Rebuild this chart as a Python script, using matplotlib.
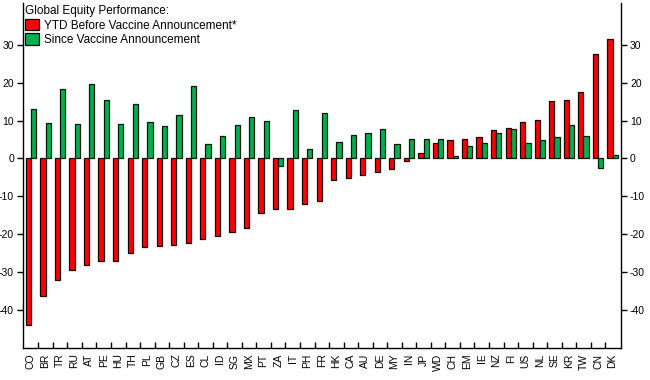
import matplotlib
matplotlib.use("Agg")
import matplotlib.pyplot as plt
from matplotlib.patches import Patch
import numpy as np

categories = ["CO","BR","TR","RU","AT","PE","HU","TH","PL","GB","CZ","ES","CL","ID",
              "SG","MX","PT","ZA","IT","PH","FR","HK","CA","AU","DE","MY","IN","JP",
              "WD","CH","EM","IE","NZ","FI","US","NL","SE","KR","TW","CN","DK"]
ytd_before = [-44.0,-36.2,-32.1,-29.5,-28.2,-27.1,-27.1,-25.0,-23.4,-23.1,-22.8,-22.3,-21.2,-20.5,
              -19.4,-18.4,-14.4,-13.3,-13.3,-12.0,-11.2,-5.6,-5.1,-4.3,-3.5,-2.7,-0.6,1.5,
              4.0,4.85,5.1,5.65,7.5,8.0,9.5,10.2,15.1,15.5,17.5,27.5,31.4]
since_vaccine = [13.1,9.3,18.4,9.0,19.6,15.5,9.0,14.3,9.5,8.5,11.4,19.1,3.7,6.0,
                 8.7,10.8,10.0,-1.9,12.7,2.6,12.1,4.4,6.3,6.8,7.7,3.9,5.2,5.0,
                 5.1,0.6,3.3,4.0,6.8,7.8,4.2,4.85,5.65,8.7,5.9,-2.65,0.9]
yticks = [-40,-30,-20,-10,0,10,20,30]
legend_title = "Global Equity Performance:"
label_red = "YTD Before Vaccine Announcement*"
label_green = "Since Vaccine Announcement"

RED = "#FF0000"
GREEN = "#00B050"

plt.rcParams['font.family'] = ['Liberation Sans', 'DejaVu Sans']

fig = plt.figure(figsize=(6.5, 3.8), dpi=100)
ax = fig.add_axes([23/650, 1-348/380, (621-23)/650, (348-3)/380])

x = np.arange(len(categories))
w = 0.36
ax.bar(x - w/2, ytd_before, width=w, color=RED, edgecolor="#1a0000", linewidth=0.9, zorder=2)
ax.bar(x + w/2, since_vaccine, width=w, color=GREEN, edgecolor="#001a0a", linewidth=0.9, zorder=2)

ax.set_xlim(-0.55, len(categories) - 1 + 0.58)
ax.set_ylim(-50, 41)

ax.spines['top'].set_visible(False)
for s in ['left', 'right', 'bottom']:
    ax.spines[s].set_linewidth(1.0)
    ax.spines[s].set_color('black')

ax.set_yticks(yticks)
ax.set_yticklabels([str(v) for v in yticks])
ax.tick_params(axis='y', which='major', direction='out', length=4, width=1,
               labelsize=7.5, left=True, right=True, labelleft=True, labelright=True, pad=2.5)

ax.set_xticks(x)
ax.set_xticklabels(categories, rotation=90, fontsize=7.5)
ax.tick_params(axis='x', which='major', length=0, pad=4)
ax.set_xticks(x[1:] - 0.5, minor=True)
ax.tick_params(axis='x', which='minor', direction='in', length=4, width=1)

handles = [Patch(facecolor=RED, edgecolor='black', linewidth=0.9, label=label_red),
           Patch(facecolor=GREEN, edgecolor='black', linewidth=0.9, label=label_green)]
leg = ax.legend(handles=handles, title=legend_title, loc='upper left',
                bbox_to_anchor=(25/650, 1 - 5/380), bbox_transform=fig.transFigure,
                frameon=False, fontsize=8.5, title_fontsize=8.5, handlelength=1.15,
                handleheight=1.15, handletextpad=0.45, labelspacing=0.15, borderpad=0,
                borderaxespad=0, alignment='left')

fig.savefig("out.png", dpi=100)
